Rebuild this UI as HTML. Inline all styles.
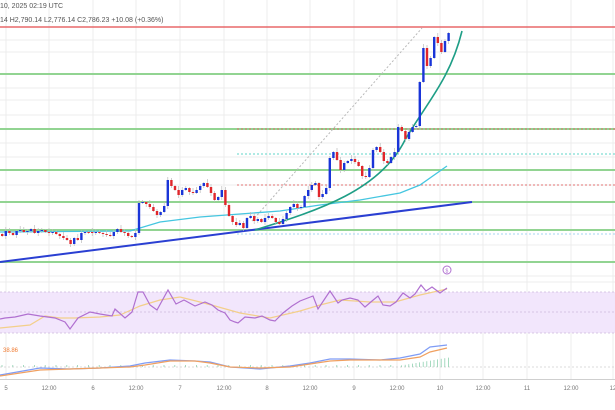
<!DOCTYPE html>
<html><head><meta charset="utf-8"><style>
html,body{margin:0;padding:0;background:#fff;width:615px;height:410px;overflow:hidden}
svg{display:block;font-family:"Liberation Sans",sans-serif}
</style></head><body>
<svg id="s" width="615" height="410" viewBox="0 0 615 410" xmlns="http://www.w3.org/2000/svg">
<g id="grid" stroke="#ececec" stroke-width="1"></g>
<!-- RSI band -->
<rect x="0" y="292" width="615" height="41" fill="#f2e6fc"/>
<g stroke="#cdb9dd" stroke-dasharray="2,2" stroke-width="0.8">
<line x1="0" y1="292" x2="615" y2="292"/><line x1="0" y1="312" x2="615" y2="312"/><line x1="0" y1="333" x2="615" y2="333"/>
<line x1="0" y1="367" x2="615" y2="367" stroke="#cfcfcf"/>
</g>
<line x1="0" y1="379.5" x2="615" y2="379.5" stroke="#cfcfcf" stroke-width="1"/>
<!-- horizontal levels -->
<line x1="0" y1="27" x2="615" y2="27" stroke="#e8686a" stroke-width="1.6"/>
<g stroke="#92d492" stroke-width="2">
<line x1="0" y1="74" x2="615" y2="74"/><line x1="0" y1="129" x2="615" y2="129"/>
<line x1="0" y1="170" x2="615" y2="170"/><line x1="0" y1="202" x2="615" y2="202"/>
<line x1="0" y1="230" x2="615" y2="230"/><line x1="0" y1="262" x2="615" y2="262"/>
</g>
<g stroke-dasharray="2,2" stroke-width="1">
<line x1="237" y1="129" x2="615" y2="129" stroke="#e07070"/>
<line x1="237" y1="154" x2="615" y2="154" stroke="#5fd6c8"/>
<line x1="237" y1="185" x2="615" y2="185" stroke="#e07070"/>
<line x1="237" y1="234" x2="615" y2="234" stroke="#a6d4f0"/>
</g>
<line x1="252" y1="221" x2="422" y2="28" stroke="#b8b8b8" stroke-dasharray="2,2" stroke-width="1"/>
<polyline fill="none" stroke="#45c6e0" stroke-width="1.3" points="0,232 130,231 160,222 200,217 240,214 280,211 320,205 360,200 400,193 420,185 447,166"/>
<line x1="0" y1="262" x2="472" y2="202" stroke="#2a3fd2" stroke-width="2"/>
<path d="M255,230 C320,210 380,190 405,140 C425,105 450,80 462,31" fill="none" stroke="#1e9e86" stroke-width="1.6"/>
<g id="candles"></g>
<!-- RSI -->
<polyline fill="none" stroke="#f3cf8a" stroke-width="1.2" points="0,328 30,325 45,316 60,318 75,318 100,317 120,315 140,306 160,300 180,297 200,302 215,306 240,313 270,318 300,311 320,305 340,300 370,302 395,302 420,295 447,289"/>
<polyline fill="none" stroke="#b070d0" stroke-width="1.2" points="0,319 5,318 15,317 28,314 40,316 55,318 65,322 70,329 78,318 90,312 100,314 112,316 115,309 125,318 132,312 138,292 143,292 150,305 157,310 168,290 176,304 184,300 195,306 205,302 212,305 218,310 225,313 230,320 235,322 238,323 245,317 255,318 262,316 270,320 275,321 283,313 292,306 300,301 313,296 318,309 330,291 338,303 342,300 350,298 358,300 365,307 372,301 378,296 383,305 390,306 396,302 403,293 410,298 415,294 421,285 426,291 432,287 440,293 447,288"/>
<circle cx="447" cy="270" r="4" fill="none" stroke="#b070d0" stroke-width="1"/>
<text x="445.5" y="272.5" font-size="5" fill="#b070d0">$</text>
<!-- MACD -->
<g id="hist" stroke="#8fd0b0" stroke-width="0.8"></g>
<polyline fill="none" stroke="#7f9cf5" stroke-width="1.2" points="0,375 40,368 70,369 100,368 130,366 145,363 170,360 195,361 210,362 230,367 260,369 290,366 310,363 330,359 350,359 380,360 400,358 420,354 430,347 447,345"/>
<polyline fill="none" stroke="#f0a060" stroke-width="1.2" points="0,376 40,370 70,369 100,368 130,367 145,365 170,361 195,361 210,363 230,367 260,368 290,367 310,364 330,361 350,360 380,360 400,360 420,357 430,352 447,348"/>
<text x="3" y="352" font-size="6" fill="#f07a30">38.86</text>
<!-- header text -->
<text x="0" y="8" font-size="7" fill="#555">10, 2025 02:19 UTC</text>
<text x="0" y="22" font-size="7" fill="#555">14  H2,790.14  L2,776.14  C2,786.23  +10.08 (+0.36%)</text>
<g font-size="6" fill="#777" text-anchor="middle" id="xl"></g>
</svg>
<script>
var ns="http://www.w3.org/2000/svg",g=document.getElementById('grid');
function el(p,t,a){var e=document.createElementNS(ns,t);for(var k in a)e.setAttribute(k,a[k]);p.appendChild(e);return e;}
var xs=[6,49,93,136,180,224,267,310,354,397,440,483,527,571,613];
xs.forEach(function(x){el(g,'line',{x1:x,y1:0,x2:x,y2:379});});
[40,52,88,100,115,143,157,185,215,245,276,282].forEach(function(y){el(g,'line',{x1:0,y1:y,x2:615,y2:y});});
var lab=["5","12:00","6","12:00","7","12:00","8","12:00","9","12:00","10","12:00","11","12:00","12"];
var xl=document.getElementById('xl');
xs.forEach(function(x,i){var t=el(xl,'text',{x:x,y:390});t.textContent=lab[i];});
var c=[236,231,233,235,231,230,232,231,229,233,231,230,232,233,232,234,236,238,240,244,238,240,233,232,232,233,232,233,234,235,236,232,229,232,233,236,237,233,203,202,204,207,211,215,212,206,180,186,190,195,190,188,192,193,190,186,183,187,193,200,197,190,205,216,222,225,223,228,218,216,221,219,222,218,216,218,222,224,219,213,207,204,208,207,
196,190,185,183,197,194,188,158,152,160,170,163,161,159,162,166,176,177,168,150,147,152,161,163,157,152,127,131,139,132,127,126,82,48,66,58,37,43,52,41,33];
var cg=document.getElementById('candles'),prev=234,hg=document.getElementById('hist');
c.forEach(function(cl,i){var x=1+3.6*i,o=prev;prev=cl;var up=cl<o,col=up?'#1a35d8':'#e0262b';
var top=Math.min(o,cl),bot=Math.max(o,cl);if(bot-top<1){bot=top+1;}
var w1=1+((i*7)%4),w2=1+((i*5)%3);
el(cg,'line',{x1:x+1.2,y1:top-w1,x2:x+1.2,y2:bot+w2,stroke:'#bbb','stroke-width':0.7});
el(cg,'rect',{x:x,y:top,width:2.4,height:bot-top,fill:col});
if(i>110){var h=(i-110)*0.6+1;el(hg,'line',{x1:x+1,y1:367,x2:x+1,y2:367-h});}
else if(i%3==0){el(hg,'line',{x1:x+1,y1:367,x2:x+1,y2:365});}
});
</script>
</body></html>
